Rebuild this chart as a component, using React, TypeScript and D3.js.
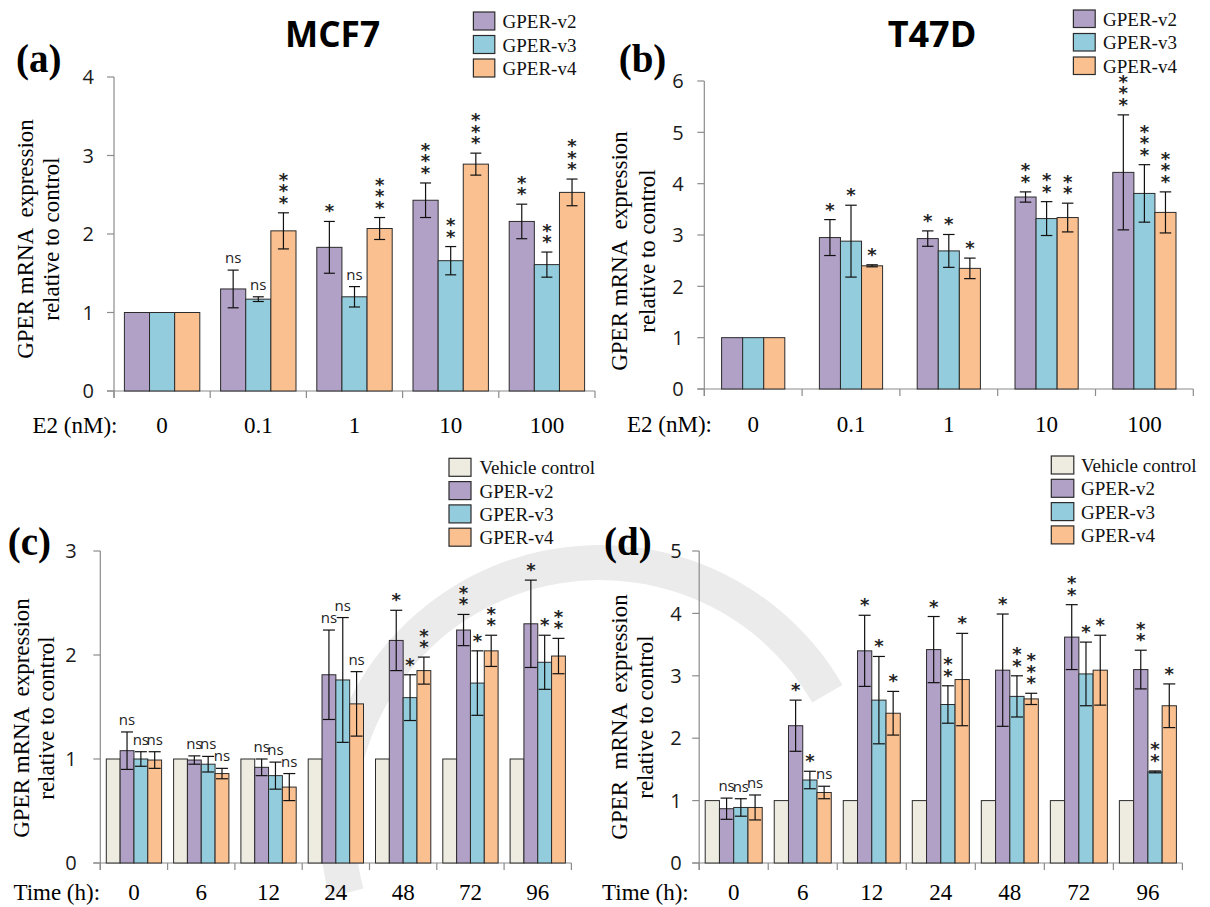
import React from "react";
import * as d3 from "d3";

// ---------------- DATA ----------------
// Panel (a) MCF7, E2 dose
const aCategories = ["0", "0.1", "1", "10", "100"];
const aV2 = [1, 1.3, 1.83, 2.43, 2.16];
const aV2Err = [0, 0.24, 0.33, 0.22, 0.22];
const aV2Sig = ["", "ns", "*", "***", "**"];
const aV3 = [1, 1.17, 1.2, 1.66, 1.61];
const aV3Err = [0, 0.03, 0.13, 0.18, 0.16];
const aV3Sig = ["", "ns", "ns", "**", "**"];
const aV4 = [1, 2.04, 2.07, 2.89, 2.53];
const aV4Err = [0, 0.23, 0.14, 0.14, 0.17];
const aV4Sig = ["", "***", "***", "***", "***"];
const aTicks = [0, 1, 2, 3, 4];

// Panel (b) T47D, E2 dose
const bCategories = ["0", "0.1", "1", "10", "100"];
const bV2 = [1, 2.95, 2.93, 3.74, 4.22];
const bV2Err = [0, 0.35, 0.15, 0.1, 1.12];
const bV2Sig = ["", "*", "*", "**", "***"];
const bV3 = [1, 2.88, 2.69, 3.32, 3.81];
const bV3Err = [0, 0.7, 0.32, 0.33, 0.56];
const bV3Sig = ["", "*", "*", "**", "***"];
const bV4 = [1, 2.4, 2.35, 3.34, 3.44];
const bV4Err = [0, 0.02, 0.2, 0.28, 0.4];
const bV4Sig = ["", "*", "*", "**", "***"];
const bTicks = [0, 1, 2, 3, 4, 5, 6];

// Panel (c) MCF7, time course
const cCategories = ["0", "6", "12", "24", "48", "72", "96"];
const cVeh = [1, 1, 1, 1, 1, 1, 1];
const cV2 = [1.08, 0.99, 0.92, 1.81, 2.14, 2.24, 2.3];
const cV2Err = [0.18, 0.04, 0.08, 0.43, 0.29, 0.15, 0.42];
const cV2Sig = ["ns", "ns", "ns", "ns", "*", "**", "*"];
const cV3 = [1.0, 0.95, 0.84, 1.76, 1.59, 1.73, 1.93];
const cV3Err = [0.07, 0.075, 0.13, 0.6, 0.22, 0.31, 0.26];
const cV3Sig = ["ns", "ns", "ns", "ns", "*", "*", "*"];
const cV4 = [0.99, 0.86, 0.73, 1.53, 1.85, 2.04, 1.99];
const cV4Err = [0.08, 0.05, 0.13, 0.31, 0.13, 0.15, 0.17];
const cV4Sig = ["ns", "ns", "ns", "ns", "**", "**", "**"];
const cTicks = [0, 1, 2, 3];

// Panel (d) T47D, time course
const dCategories = ["0", "6", "12", "24", "48", "72", "96"];
const dVeh = [1, 1, 1, 1, 1, 1, 1];
const dV2 = [0.87, 2.2, 3.4, 3.42, 3.09, 3.62, 3.1];
const dV2Err = [0.17, 0.41, 0.57, 0.53, 0.9, 0.52, 0.31];
const dV2Sig = ["ns", "*", "*", "*", "*", "**", "**"];
const dV3 = [0.89, 1.33, 2.61, 2.54, 2.67, 3.03, 1.46];
const dV3Err = [0.14, 0.14, 0.7, 0.3, 0.33, 0.51, 0.015];
const dV3Sig = ["ns", "*", "*", "**", "**", "*", "**"];
const dV4 = [0.89, 1.13, 2.4, 2.94, 2.63, 3.09, 2.52];
const dV4Err = [0.2, 0.1, 0.35, 0.74, 0.09, 0.56, 0.35];
const dV4Sig = ["ns", "ns", "*", "*", "***", "*", "*"];
const dTicks = [0, 1, 2, 3, 4, 5];

// ---------------- STYLE ----------------
const COL_VEH = "#eeece1";
const COL_V2 = "#b2a1c7";
const COL_V3 = "#93cddd";
const COL_V4 = "#fac090";
const SERIF = "'Liberation Serif', 'Times New Roman', serif";
const SANS = "'Open Sans', 'Noto Sans', sans-serif";
const STAR_FONT = "'DejaVu Sans', sans-serif";
const AXIS_COL = "#8c8c8c";

type Series = {
  key: string;
  label: string;
  color: string;
  values: number[];
  errors?: number[];
  sig?: string[];
};

type Cfg = {
  categories: string[];
  series: Series[];
  ticks: number[];
  x0: number;
  x1: number;
  yBottom: number;
  yTop: number;
  pad: number;
  cap: number;
  tickGap: number;
  yl1: string;
  yl1x: number;
  yl2x: number;
  ylCy: number;
  catBaseline: number;
  axisTitle: string;
  axisTitleX: number;
  title?: string;
  titleCx?: number;
  titleW?: number;
  panel: string;
  panelX: number;
  panelY: number;
  legX: number;
  legY: number;
  legW: number;
  legH: number;
  legStep: number;
  legTextX: number;
};

function Panel({ c }: { c: Cfg }) {
  const yMax = d3.max(c.ticks) as number;
  const x = d3.scaleBand<string>().domain(c.categories).range([c.x0, c.x1]).padding(0);
  const y = d3.scaleLinear().domain([0, yMax]).range([c.yBottom, c.yTop]);
  const inner = d3
    .scaleBand<string>()
    .domain(c.series.map((s) => s.key))
    .range([c.pad, x.bandwidth() - c.pad])
    .padding(0);
  const bw = inner.bandwidth();

  const boundaries = d3.range(c.categories.length + 1).map((i) => c.x0 + i * x.bandwidth());

  return (
    <g>
      {/* axes */}
      <line x1={c.x0} x2={c.x0} y1={y(yMax)} y2={c.yBottom + 7} stroke={AXIS_COL} strokeWidth={1.2} />
      <line x1={c.x0 - 7} x2={c.x1} y1={c.yBottom} y2={c.yBottom} stroke={AXIS_COL} strokeWidth={1.2} />
      {c.ticks.map((t) => (
        <g key={"t" + t}>
          <line x1={c.x0 - 7} x2={c.x0} y1={y(t)} y2={y(t)} stroke={AXIS_COL} strokeWidth={1.2} />
          <text
            x={c.x0 - c.tickGap}
            y={y(t)}
            dy="0.36em"
            textAnchor="end"
            fontFamily={SANS}
            fontSize={20}
            fill="#1a1a1a"
          >
            {t}
          </text>
        </g>
      ))}
      {boundaries.map((bx, i) => (
        <line key={"b" + i} x1={bx} x2={bx} y1={c.yBottom} y2={c.yBottom + 7} stroke={AXIS_COL} strokeWidth={1.2} />
      ))}

      {/* bars */}
      {c.categories.map((cat, i) => (
        <g key={"g" + cat}>
          {c.series.map((s) => {
            const bx = (x(cat) as number) + (inner(s.key) as number);
            const v = s.values[i];
            return (
              <rect
                key={s.key}
                x={bx}
                y={y(v)}
                width={bw}
                height={c.yBottom - y(v)}
                fill={s.color}
                stroke="#2b2b2b"
                strokeWidth={1}
              />
            );
          })}
        </g>
      ))}

      {/* error bars and significance */}
      {c.categories.map((cat, i) => (
        <g key={"e" + cat}>
          {c.series.map((s) => {
            if (!s.errors || !s.errors[i]) return null;
            const cx = (x(cat) as number) + (inner(s.key) as number) + bw / 2;
            const v = s.values[i];
            const e = s.errors[i];
            const yt = y(v + e);
            const yb = y(v - e);
            const sig = s.sig ? s.sig[i] : "";
            return (
              <g key={s.key}>
                <line x1={cx} x2={cx} y1={yt} y2={yb} stroke="#111" strokeWidth={1.2} />
                <line x1={cx - c.cap / 2} x2={cx + c.cap / 2} y1={yt} y2={yt} stroke="#111" strokeWidth={1.2} />
                <line x1={cx - c.cap / 2} x2={cx + c.cap / 2} y1={yb} y2={yb} stroke="#111" strokeWidth={1.2} />
                {sig === "ns" ? (
                  <text x={cx} y={yt - 7} textAnchor="middle" fontFamily={SANS} fontSize={15} fill="#222">
                    ns
                  </text>
                ) : sig ? (
                  <text
                    x={cx}
                    y={yt - 4}
                    textAnchor="middle"
                    fontFamily={STAR_FONT}
                    fontWeight="bold"
                    fontSize={18}
                    fill="#222"
                  >
                    {sig.split("").map((st, k) => (
                      <tspan key={k} x={cx} dy={k === 0 ? 0 : -11.5}>
                        {st}
                      </tspan>
                    ))}
                  </text>
                ) : null}
              </g>
            );
          })}
        </g>
      ))}

      {/* category labels */}
      {c.categories.map((cat) => (
        <text
          key={"l" + cat}
          x={(x(cat) as number) + x.bandwidth() / 2}
          y={c.catBaseline}
          textAnchor="middle"
          fontFamily={SERIF}
          fontSize={23}
          fill="#000"
        >
          {cat}
        </text>
      ))}
      <text x={c.axisTitleX} y={c.catBaseline} fontFamily={SERIF} fontSize={23} fill="#000">
        {c.axisTitle}
      </text>

      {/* y label */}
      <text
        transform={`translate(${c.yl1x},${c.ylCy}) rotate(-90)`}
        textAnchor="middle"
        fontFamily={SERIF}
        fontSize={23}
        fill="#000"
        style={{ whiteSpace: "pre" }}
      >
        {c.yl1}
      </text>
      <text
        transform={`translate(${c.yl2x},${c.ylCy}) rotate(-90)`}
        textAnchor="middle"
        fontFamily={SERIF}
        fontSize={23}
        fill="#000"
      >
        relative to control
      </text>

      {/* panel label & title */}
      <text x={c.panelX} y={c.panelY} fontFamily={SERIF} fontWeight="bold" fontSize={39} fill="#000">
        {c.panel}
      </text>
      {c.title ? (
        <text
          x={(c.titleCx as number) - (c.titleW as number) / 2}
          y={47}
          fontFamily={SANS}
          fontWeight="bold"
          fontSize={35}
          textLength={c.titleW}
          lengthAdjust="spacingAndGlyphs"
          fill="#000"
        >
          {c.title}
        </text>
      ) : null}

      {/* legend */}
      {c.series.map((s, k) => (
        <g key={"leg" + s.key}>
          <rect
            x={c.legX}
            y={c.legY + k * c.legStep}
            width={c.legW}
            height={c.legH}
            fill={s.color}
            stroke="#2b2b2b"
            strokeWidth={1.2}
          />
          <text
            x={c.legTextX}
            y={c.legY + k * c.legStep + c.legH / 2 + 7}
            fontFamily={SERIF}
            fontSize={19}
            fill="#111"
          >
            {s.label}
          </text>
        </g>
      ))}
    </g>
  );
}

const mk = (key: string, label: string, color: string, values: number[], errors?: number[], sig?: string[]): Series => ({
  key,
  label,
  color,
  values,
  errors,
  sig,
});

export default function App() {
  const A: Cfg = {
    categories: aCategories,
    series: [
      mk("v2", "GPER-v2", COL_V2, aV2, aV2Err, aV2Sig),
      mk("v3", "GPER-v3", COL_V3, aV3, aV3Err, aV3Sig),
      mk("v4", "GPER-v4", COL_V4, aV4, aV4Err, aV4Sig),
    ],
    ticks: aTicks,
    x0: 114,
    x1: 595,
    yBottom: 391,
    yTop: 77,
    pad: 10.4,
    cap: 11,
    tickGap: 20,
    yl1: "GPER mRNA  expression",
    yl1x: 32.5,
    yl2x: 59.3,
    ylCy: 239,
    catBaseline: 433,
    axisTitle: "E2 (nM):",
    axisTitleX: 32.5,
    title: "MCF7",
    titleCx: 332.5,
    titleW: 95,
    panel: "(a)",
    panelX: 16,
    panelY: 72,
    legX: 473.4,
    legY: 12,
    legW: 21.4,
    legH: 18,
    legStep: 23.5,
    legTextX: 502.5,
  };
  const B: Cfg = {
    categories: bCategories,
    series: [
      mk("v2", "GPER-v2", COL_V2, bV2, bV2Err, bV2Sig),
      mk("v3", "GPER-v3", COL_V3, bV3, bV3Err, bV3Sig),
      mk("v4", "GPER-v4", COL_V4, bV4, bV4Err, bV4Sig),
    ],
    ticks: bTicks,
    x0: 704.3,
    x1: 1193.3,
    yBottom: 389,
    yTop: 81,
    pad: 17.3,
    cap: 11.5,
    tickGap: 20.7,
    yl1: "GPER mRNA  expression",
    yl1x: 627,
    yl2x: 654.5,
    ylCy: 251,
    catBaseline: 432,
    axisTitle: "E2 (nM):",
    axisTitleX: 627,
    title: "T47D",
    titleCx: 932,
    titleW: 88.7,
    panel: "(b)",
    panelX: 618.7,
    panelY: 72,
    legX: 1073.4,
    legY: 10,
    legW: 21.8,
    legH: 17.5,
    legStep: 23.5,
    legTextX: 1103,
  };
  const C: Cfg = {
    categories: cCategories,
    series: [
      mk("veh", "Vehicle control", COL_VEH, cVeh),
      mk("v2", "GPER-v2", COL_V2, cV2, cV2Err, cV2Sig),
      mk("v3", "GPER-v3", COL_V3, cV3, cV3Err, cV3Sig),
      mk("v4", "GPER-v4", COL_V4, cV4, cV4Err, cV4Sig),
    ],
    ticks: cTicks,
    x0: 100.3,
    x1: 571.4,
    yBottom: 863,
    yTop: 551,
    pad: 6,
    cap: 12,
    tickGap: 23.5,
    yl1: "GPER mRNA  expression",
    yl1x: 28.7,
    yl2x: 53.6,
    ylCy: 718,
    catBaseline: 900,
    axisTitle: "Time (h):",
    axisTitleX: 13.4,
    panel: "(c)",
    panelX: 7.7,
    panelY: 555,
    legX: 449,
    legY: 458.3,
    legW: 22,
    legH: 18,
    legStep: 23.3,
    legTextX: 479.5,
  };
  const D: Cfg = {
    categories: dCategories,
    series: [
      mk("veh", "Vehicle control", COL_VEH, dVeh),
      mk("v2", "GPER-v2", COL_V2, dV2, dV2Err, dV2Sig),
      mk("v3", "GPER-v3", COL_V3, dV3, dV3Err, dV3Sig),
      mk("v4", "GPER-v4", COL_V4, dV4, dV4Err, dV4Sig),
    ],
    ticks: dTicks,
    x0: 699.2,
    x1: 1182.4,
    yBottom: 863,
    yTop: 551,
    pad: 6,
    cap: 12,
    tickGap: 17.5,
    yl1: "GPER  mRNA  expression",
    yl1x: 627.2,
    yl2x: 652.5,
    ylCy: 717,
    catBaseline: 900,
    axisTitle: "Time (h):",
    axisTitleX: 602,
    panel: "(d)",
    panelX: 604,
    panelY: 555,
    legX: 1051.3,
    legY: 456,
    legW: 22.5,
    legH: 18,
    legStep: 23.3,
    legTextX: 1081,
  };

  const ring = d3
    .arc()
    .innerRadius(245)
    .outerRadius(280)
    .startAngle((-105 * Math.PI) / 180)
    .endAngle((60 * Math.PI) / 180);

  return (
    <svg
      width={1210}
      height={907}
      viewBox="0 0 1210 907"
      style={{ position: "absolute", left: 0, top: 0, background: "#fff" }}
    >
      <rect x={0} y={0} width={1210} height={907} fill="#fff" />
      <path d={ring({} as any) as string} transform="translate(600,825)" fill="#ebebeb" />
      <Panel c={A} />
      <Panel c={B} />
      <Panel c={C} />
      <Panel c={D} />
    </svg>
  );
}
